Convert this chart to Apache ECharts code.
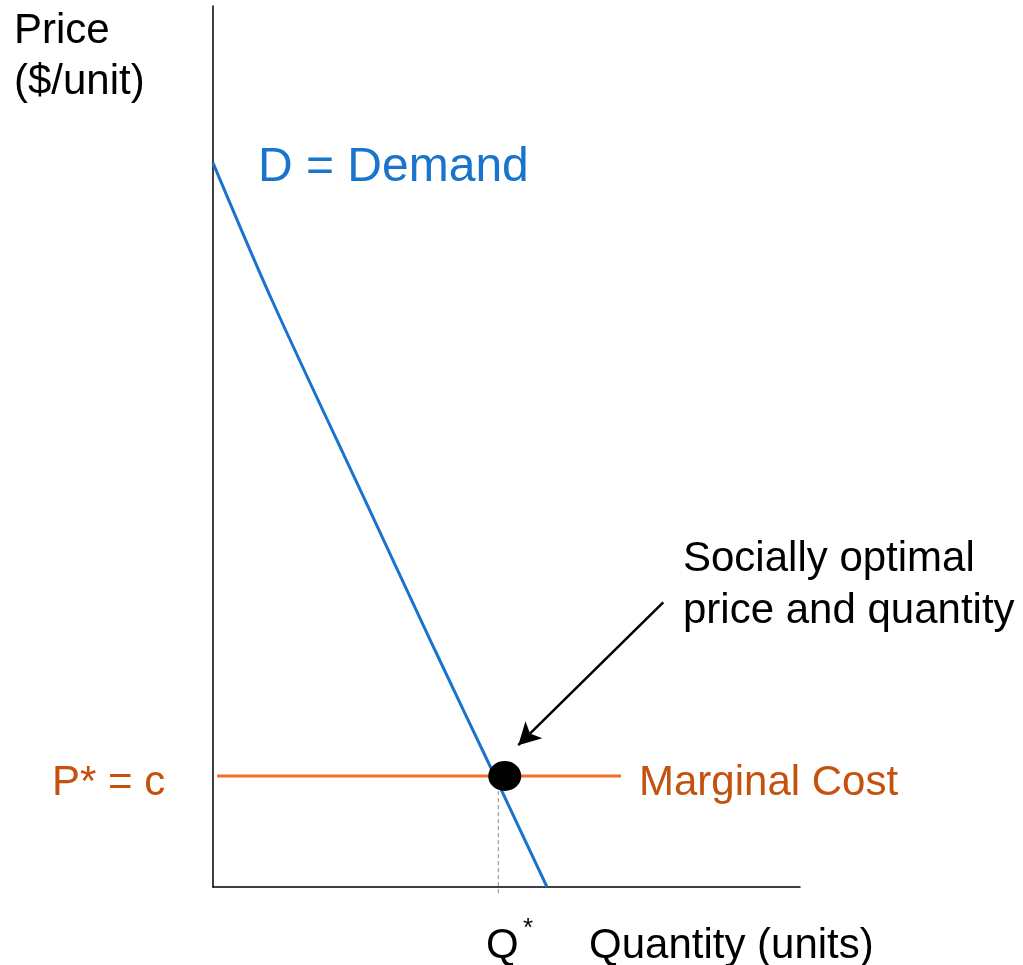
<!DOCTYPE html>
<html>
<head>
<meta charset="utf-8">
<script src="https://cdn.jsdelivr.net/npm/echarts@6/dist/echarts.min.js"></script>
<style>
  html, body { margin: 0; padding: 0; background: #fff; }
  #figure { width: 1023px; height: 965px; }
</style>
</head>
<body>
<div id="figure"></div>
<script>
    // chart values (x = quantity, y = price, both on a 0..100 scale)
    var demandPoints = [[0, 82.2], [10.05, 66.6], [25.9, 43.9], [37.8, 26.9], [48.0, 12.6], [56.9, 0]];
    var mcPrice = 12.6;
    var mcRange = [0.7, 69.5];
    var optimum = [49.7, 12.6];
    var qStar = 48.6;
    var arrowFrom = [76.7, 32.3];
    var arrowTo = [52.0, 16.1];

    var blue = '#1874cd';
    var orange = '#f07024';
    var orangeText = '#c4510e';
    var font = "'Liberation Sans', Arial, sans-serif";

    var figure = echarts.init(document.getElementById('figure'));

    function label(text, x, y, size, color) {
        return {
            type: 'text',
            x: x,
            y: y,
            style: {
                text: text,
                fontSize: size,
                fontFamily: font,
                fill: color,
                textAlign: 'left',
                textVerticalAlign: 'middle'
            }
        };
    }

    var option = {
        animation: false,
        backgroundColor: '#fff',
        grid: {
            left: 213,
            top: 6,
            width: 587,
            height: 881
        },
        xAxis: {
            type: 'value',
            min: 0,
            max: 100,
            axisLine: { show: true, onZero: false, lineStyle: { color: '#000', width: 1.5 } },
            axisTick: { show: false },
            axisLabel: { show: false },
            splitLine: { show: false }
        },
        yAxis: {
            type: 'value',
            min: 0,
            max: 100,
            axisLine: { show: true, onZero: false, lineStyle: { color: '#000', width: 1.5 } },
            axisTick: { show: false },
            axisLabel: { show: false },
            splitLine: { show: false }
        },
        graphic: [
            label('Price', 14, 31, 42, '#000'),
            label('($/unit)', 14, 82, 42, '#000'),
            label('D = Demand', 258, 168, 48, blue),
            label('Socially optimal', 683, 559, 42, '#000'),
            label('price and quantity', 683, 611, 42, '#000'),
            label('P* = c', 52, 783, 42, orangeText),
            label('Marginal Cost', 639, 783, 42, orangeText),
            label('Q', 486, 946, 42, '#000'),
            label('*', 523, 929, 26, '#000'),
            label('Quantity (units)', 589, 946, 42, '#000')
        ],
        series: [{
            name: 'Demand',
            type: 'line',
            smooth: 0.3,
            symbol: 'none',
            lineStyle: { color: blue, width: 3 },
            data: demandPoints
        }, {
            name: 'Marginal Cost',
            type: 'line',
            symbol: 'none',
            lineStyle: { color: orange, width: 3 },
            data: [[mcRange[0], mcPrice], [mcRange[1], mcPrice]]
        }, {
            name: 'Q*',
            type: 'line',
            symbol: 'none',
            clip: false,
            lineStyle: { color: '#888', width: 1, type: [4, 3] },
            data: [[qStar, -0.7], [qStar, mcPrice]]
        }, {
            name: 'arrow',
            type: 'line',
            symbol: 'none',
            lineStyle: { width: 0 },
            data: [],
            markLine: {
                silent: true,
                symbol: ['none', 'arrow'],
                symbolSize: [18, 22],
                label: { show: false },
                lineStyle: { color: '#000', width: 2.5, type: 'solid' },
                data: [[{ coord: arrowFrom }, { coord: arrowTo }]]
            }
        }, {
            name: 'optimum',
            type: 'scatter',
            symbol: 'circle',
            symbolSize: [33, 30],
            itemStyle: { color: '#000', opacity: 1 },
            z: 5,
            data: [optimum]
        }]
    };

    figure.setOption(option);
</script>
</body>
</html>
